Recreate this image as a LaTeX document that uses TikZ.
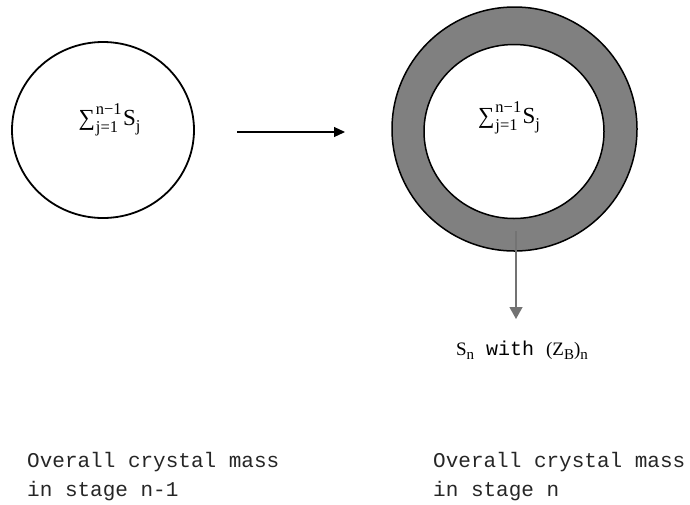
\documentclass[tikz,border=0pt]{standalone}
\usepackage{fontspec}
\setmainfont{Liberation Serif}
\setmonofont{Liberation Mono}
\usetikzlibrary{arrows.meta,shapes.geometric}
\newcommand{\scr}[1]{{\fontsize{16.5}{16.5}\selectfont #1}}
\newcommand{\sumlabeltext}{∑\kern1pt\rlap{\raisebox{0.5em}{\scr{n−1}}}\raisebox{-0.3em}{\scr{j=1}}\kern5pt S\raisebox{-0.25em}{\scr{j}}}
\newcommand{\lowsub}[1]{\raisebox{-0.22em}{\fontsize{15}{16}\selectfont #1}}
\tikzset{
  crystal/.style={ellipse, draw, line width=1.5pt, inner sep=0pt},
  flow/.style={-{Triangle[length=11pt,width=10pt]}, line width=1.2pt},
  caption/.style={anchor=base west, font=\fontsize{21}{29}\selectfont\ttfamily, align=left, inner sep=0pt, text=black!85},
  sumlabel/.style={font=\fontsize{23}{27}\selectfont, inner sep=0pt}
}
\begin{document}
\begin{tikzpicture}[x=1pt,y=-1pt]
\useasboundingbox (0,0) rectangle (690,504);
% left crystal
\node[crystal, line width=1.8pt, minimum width=182pt, minimum height=176pt] (prev) at (103,130) {};
\node[sumlabel] (sumL) at (109.5,120) {\sumlabeltext};
% right crystal
\node[crystal, fill=black!50, minimum width=245pt, minimum height=244pt] (outer) at (514.5,129) {};
\node[crystal, fill=white, minimum width=180pt, minimum height=174pt] (inner) at (514,131.5) {};
\node[sumlabel] (sumR) at (509,118) {\sumlabeltext};
% horizontal arrow
\coordinate (h1) at (237,132);
\coordinate (h2) at (345,132);
\draw[flow] (h1) -- (h2);
% down arrow
\coordinate (d1) at (516,231);
\node[inner sep=0pt, anchor=base, font=\fontsize{19}{22}\selectfont] (layer) at (522,355) {S\lowsub{n}\texttt{\fontsize{20}{22}\selectfont{} with }(Z\lowsub{B})\lowsub{n}};
\coordinate (d2) at (516,319);
\draw[-{Triangle[length=12pt,width=13pt]}, draw=black!55, line width=1.2pt] (d1) -- (d2);
% captions
\node[caption] (capL) at (27,496) {Overall crystal mass\\in stage n-1};
\node[caption] (capR) at (433,496) {Overall crystal mass\\in stage n};
\end{tikzpicture}
\end{document}
